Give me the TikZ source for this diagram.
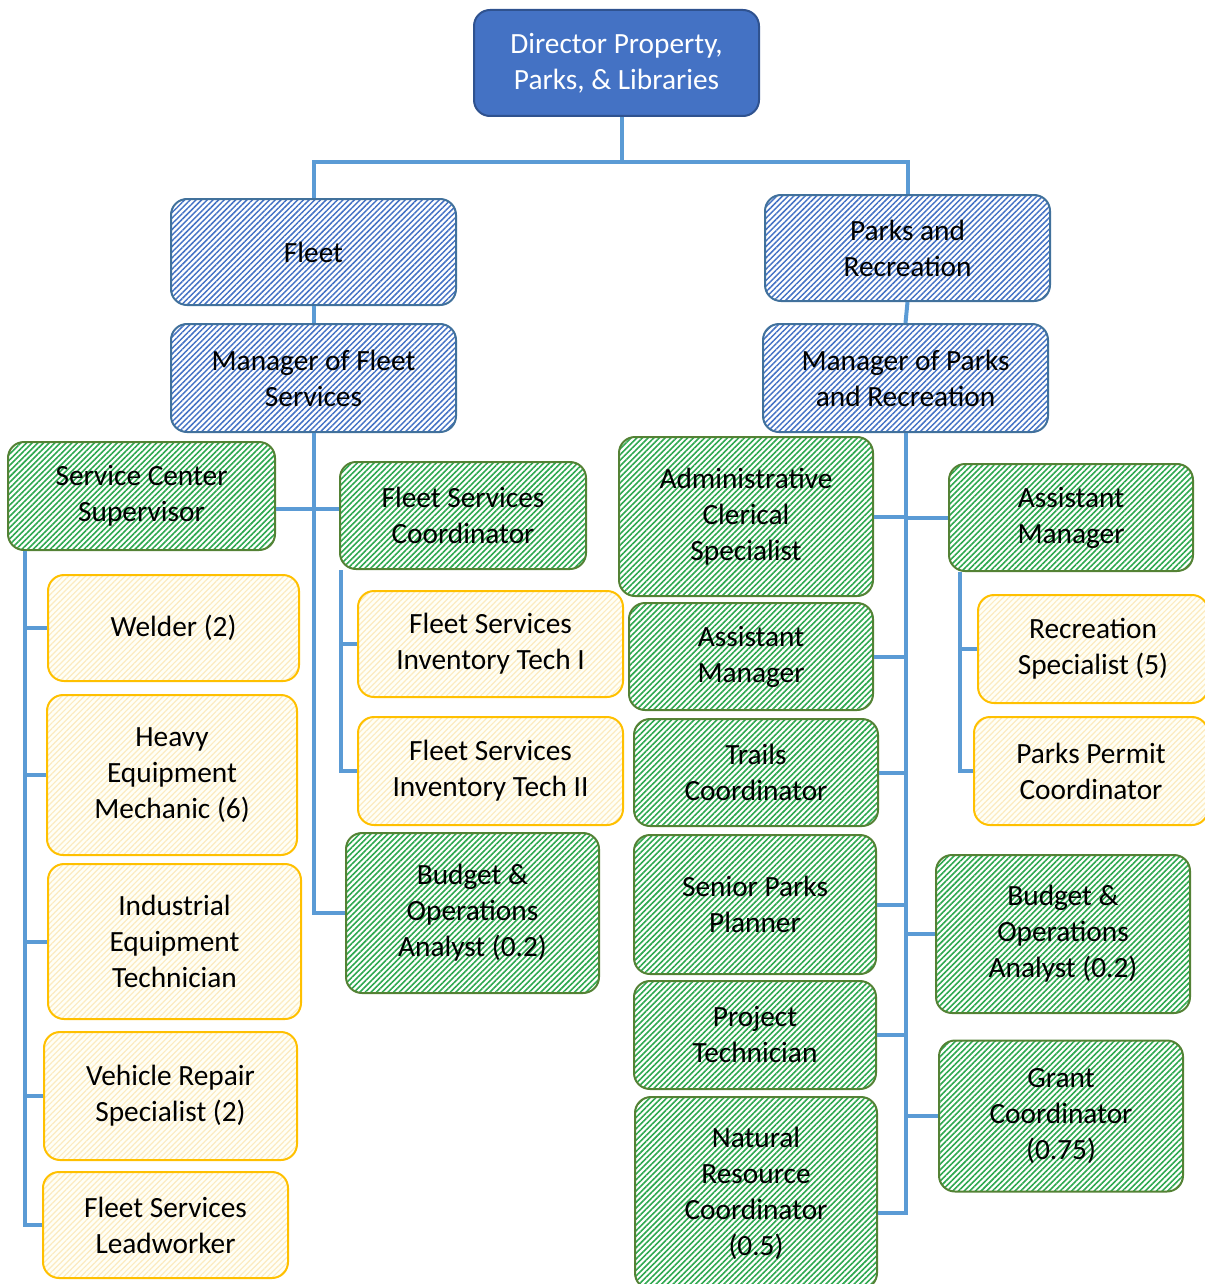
\documentclass[tikz,border=0pt]{standalone}
\usepackage{fontspec}
\setmainfont{Carlito}
\usetikzlibrary{patterns.meta}
\definecolor{dirBlue}{HTML}{4472C4}
\definecolor{dirEdge}{HTML}{2F528F}
\definecolor{blueEdge}{HTML}{41719C}
\definecolor{hatchGreen}{HTML}{2EA84F}
\definecolor{greenEdge}{HTML}{548235}
\definecolor{hatchYellow}{HTML}{FCEBC0}
\definecolor{yellowEdge}{HTML}{FFC000}
\definecolor{linkBlue}{HTML}{5B9BD5}

\begin{document}
\begin{tikzpicture}[x=0.75pt,y=-0.75pt,
    box/.style={rounded corners=12pt,align=center,line width=1.5pt,inner sep=0pt,
      font=\fontsize{22pt}{27pt}\selectfont},
    sz/.style 2 args={minimum width=#1*0.75pt,minimum height=#2*0.75pt},
    topbox/.style={box,fill=dirBlue,draw=dirEdge,text=white},
    bluebox/.style={box,draw=blueEdge,
      pattern={Lines[angle=45,distance=3pt,line width=1.1pt]},pattern color=dirBlue},
    greenbox/.style={box,draw=greenEdge,
      pattern={Lines[angle=45,distance=3pt,line width=1.2pt]},pattern color=hatchGreen},
    yellowbox/.style={box,draw=yellowEdge,preaction={fill=yellow!3},
      pattern={Lines[angle=45,distance=3pt,line width=0.9pt]},pattern color=hatchYellow},
    link/.style={draw=linkBlue,line width=3pt}]
  \useasboundingbox (0,0) rectangle (1205,1284);

  % top levels
  \node[topbox,sz={285}{106}] (dir) at (616.5,63) {Director Property,\\Parks, \& Libraries};
  \node[bluebox,sz={285}{106}] (fleet) at (313.5,252) {Fleet};
  \node[bluebox,sz={285}{106}] (parks) at (907.5,248) {Parks and\\Recreation};
  \node[bluebox,sz={285}{108}] (mgrF) at (313.5,378) {Manager of Fleet\\Services};
  \node[bluebox,sz={285}{108}] (mgrP) at (905.5,378) {Manager of Parks\\and Recreation};

  % fleet side
  \node[greenbox,sz={267}{108}] (scs) at (141.5,496) {Service Center\\Supervisor};
  \node[greenbox,sz={246}{107}] (fsc) at (463,515.5) {Fleet Services\\Coordinator};
  \node[greenbox,sz={253}{160}] (budL) at (472.5,913) {Budget \&\\Operations\\Analyst (0.2)};
  \node[yellowbox,sz={251}{106}] (weld) at (173.5,628) {Welder (2)};
  \node[yellowbox,sz={250}{160}] (heavy) at (172,775) {Heavy\\Equipment\\Mechanic (6)};
  \node[yellowbox,sz={253}{155}] (indus) at (174.5,941.5) {Industrial\\Equipment\\Technician};
  \node[yellowbox,sz={253}{128}] (vrs) at (170.5,1096) {Vehicle Repair\\Specialist (2)};
  \node[yellowbox,sz={245}{106}] (fsl) at (165.5,1225) {Fleet Services\\Leadworker};
  \node[yellowbox,sz={265}{106}] (inv1) at (490.5,644) {Fleet Services\\Inventory Tech I};
  \node[yellowbox,sz={265}{108}] (inv2) at (490.5,771) {Fleet Services\\Inventory Tech II};

  % parks side
  \node[greenbox,sz={254}{159}] (adm) at (746,516.5) {Administrative\\Clerical\\Specialist};
  \node[greenbox,sz={244}{107}] (am1) at (1071,517.5) {Assistant\\Manager};
  \node[greenbox,sz={244}{107}] (am2) at (751,656.5) {Assistant\\Manager};
  \node[greenbox,sz={244}{107}] (trails) at (756,772.5) {Trails\\Coordinator};
  \node[greenbox,sz={242}{139}] (senior) at (755,904.5) {Senior Parks\\Planner};
  \node[greenbox,sz={242}{108}] (proj) at (755,1035) {Project\\Technician};
  \node[greenbox,sz={242}{192}] (nat) at (756,1193) {Natural\\Resource\\Coordinator\\(0.5)};
  \node[greenbox,sz={254}{158}] (budR) at (1063,934) {Budget \&\\Operations\\Analyst (0.2)};
  \node[greenbox,sz={244}{151}] (grant) at (1061,1116) {Grant\\Coordinator\\(0.75)};
  \node[yellowbox,sz={230}{108}] (rec) at (1093,649) {Recreation\\Specialist (5)};
  \node[yellowbox,sz={234}{108}] (permit) at (1091,771) {Parks Permit\\Coordinator};

  % connectors
  \coordinate (bus) at (622,162);
  \draw[link] (dir.south -| bus) -- (bus) -| (fleet.north);
  \draw[link] (bus) -| (parks.north);
  \draw[link] (fleet.south) -- (mgrF.north);
  \draw[link] (parks.south) -- (mgrP.north);

  \coordinate (jF) at (313.5,509);
  \draw[link] (mgrF.south) |- (budL.west);
  \draw[link] (scs.east |- jF) -- (fsc.west |- jF);

  \coordinate (sL) at ([xshift=13.5pt]scs.south west);
  \foreach \n in {weld,heavy,indus,vrs,fsl}
    \draw[link] (sL) |- (\n.west);
  \coordinate (cL) at ([xshift=1.5pt]fsc.south west);
  \foreach \n in {inv1,inv2}
    \draw[link] (cL) |- (\n.west);

  \foreach \n in {adm,am2,trails,senior,proj}
    \draw[link] (mgrP.south) |- (\n.east);
  \draw[link] (mgrP.south) |- ([yshift=-15pt]nat.east);
  \foreach \n in {am1,budR,grant}
    \draw[link] (mgrP.south) |- (\n.west);
  \coordinate (aL) at ([xshift=9pt]am1.south west);
  \foreach \n in {rec,permit}
    \draw[link] (aL) |- (\n.west);
\end{tikzpicture}
\end{document}
